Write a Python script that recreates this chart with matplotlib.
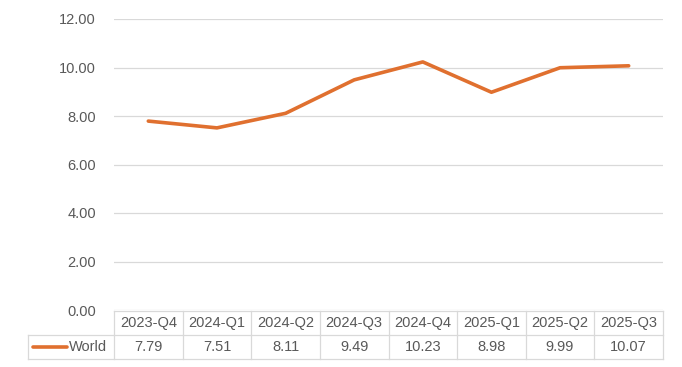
import matplotlib
matplotlib.use('Agg')
import matplotlib.pyplot as plt
from matplotlib.lines import Line2D

# Data
quarters = ['2023-Q4', '2024-Q1', '2024-Q2', '2024-Q3', '2024-Q4', '2025-Q1', '2025-Q2', '2025-Q3']
world = [7.79, 7.51, 8.11, 9.49, 10.23, 8.98, 9.99, 10.07]
yticks = [0, 2, 4, 6, 8, 10, 12]

line_color = '#E0702F'
grid_color = '#D9D9D9'
text_color = '#595959'

plt.rcParams['font.family'] = ['Liberation Sans', 'DejaVu Sans']

W, H = 682, 367
fig = plt.figure(figsize=(W / 100, H / 100), dpi=100)

# plot area in pixel coords
left, right, top, bottom = 114, 663, 19, 310
ax = fig.add_axes([left / W, 1 - bottom / H, (right - left) / W, (bottom - top) / H])

x = list(range(len(quarters)))
ax.plot(x, world, color=line_color, lw=2.6, solid_capstyle='round', zorder=3)
ax.set_xlim(-0.5, len(quarters) - 0.5)
ax.set_ylim(0, 12)
ax.set_yticks(yticks)
ax.set_yticklabels([f'{v:.2f}' for v in yticks], color=text_color, fontsize=10.5)
ax.tick_params(axis='y', length=0, pad=13)
ax.set_xticks([])
ax.grid(axis='y', color=grid_color, lw=0.9)
ax.set_axisbelow(True)
for s in ax.spines.values():
    s.set_visible(False)


def px(xp, yp):
    return xp / W, 1 - yp / H


def hline(x0, x1, y):
    fig.add_artist(Line2D([x0 / W, x1 / W], [1 - y / H, 1 - y / H],
                          color=grid_color, lw=0.9, transform=fig.transFigure))


def vline(xp, y0, y1):
    fig.add_artist(Line2D([xp / W, xp / W], [1 - y0 / H, 1 - y1 / H],
                          color=grid_color, lw=0.9, transform=fig.transFigure))


# data table below the plot
t_top, t_mid, t_bot = 311, 335, 359
leg_left = 28
col_w = (right - left) / len(quarters)

hline(left, right, t_top)
hline(leg_left, right, t_mid)
hline(leg_left, right, t_bot)
vline(leg_left, t_mid, t_bot)
for i in range(len(quarters) + 1):
    vline(left + i * col_w, t_top, t_bot)

for i, (q, v) in enumerate(zip(quarters, world)):
    cx = left + (i + 0.5) * col_w
    fig.text(*px(cx, (t_top + t_mid) / 2), q, ha='center', va='center',
             color=text_color, fontsize=10.5)
    fig.text(*px(cx, (t_mid + t_bot) / 2), f'{v:.2f}', ha='center', va='center',
             color=text_color, fontsize=10.5)

# legend key in the table
ly = (t_mid + t_bot) / 2
fig.add_artist(Line2D([33 / W, 67 / W], [1 - ly / H, 1 - ly / H], color=line_color,
                      lw=2.6, solid_capstyle='round', transform=fig.transFigure))
fig.text(*px(69, ly), 'World', ha='left', va='center', color=text_color, fontsize=10.5)

fig.savefig('out.png', dpi=100)
